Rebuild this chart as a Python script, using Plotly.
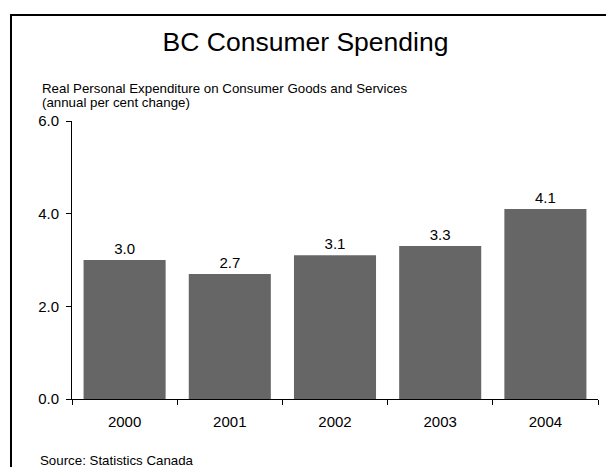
import plotly.graph_objects as go

years = ["2000", "2001", "2002", "2003", "2004"]
values = [3.0, 2.7, 3.1, 3.3, 4.1]
y_ticks = [0, 2, 4, 6]

title_text = "BC Consumer Spending"
subtitle_line1 = "Real Personal Expenditure on Consumer Goods and Services"
subtitle_line2 = "(annual per cent change)"
source_text = "Source: Statistics Canada"

W, H = 611, 467
L, R, T, B = 72, 13, 121, 68
PW, PH = W - L - R, H - T - B

def px(x):
    return (x - L) / PW

def py(y):
    return (H - B - y) / PH

FONT = "Liberation Sans, Arial, Helvetica, sans-serif"

fig = go.Figure(
    go.Bar(
        x=years,
        y=values,
        marker=dict(color="#666666", line=dict(width=0)),
        text=[f"{v:.1f}" for v in values],
        textposition="outside",
        textfont=dict(size=15, color="#000000", family=FONT),
        cliponaxis=False,
    )
)

fig.update_layout(
    width=W,
    height=H,
    margin=dict(l=L, r=R, t=T, b=B, pad=0),
    paper_bgcolor="white",
    plot_bgcolor="white",
    showlegend=False,
    bargap=0.22,
    font=dict(family=FONT, color="#000000"),
    title=dict(
        text=title_text,
        x=0.5,
        xref="container",
        xanchor="center",
        y=1 - 42 / H,
        yref="container",
        yanchor="middle",
        font=dict(size=26.5, color="#000000", family=FONT),
    ),
    xaxis=dict(
        type="category",
        showline=True,
        linecolor="#000000",
        linewidth=1,
        ticks="outside",
        tickson="boundaries",
        ticklen=5,
        tickcolor="#000000",
        showgrid=False,
        tickfont=dict(size=15, color="#000000", family=FONT),
        ticklabelstandoff=9,
    ),
    yaxis=dict(
        range=[0, 6],
        tickvals=y_ticks,
        tickformat=".1f",
        showline=True,
        linecolor="#000000",
        linewidth=1,
        ticks="outside",
        ticklen=5,
        tickcolor="#000000",
        showgrid=False,
        zeroline=False,
        tickfont=dict(size=15, color="#000000", family=FONT),
        ticklabelstandoff=4,
    ),
    shapes=[
        dict(
            type="line",
            xref="paper",
            yref="paper",
            x0=px(10),
            x1=px(606),
            y0=py(15),
            y1=py(15),
            line=dict(color="#000000", width=2),
            layer="above",
        ),
        dict(
            type="line",
            xref="paper",
            yref="paper",
            x0=px(11),
            x1=px(11),
            y0=py(14),
            y1=py(H),
            line=dict(color="#000000", width=2),
            layer="above",
        ),
    ],
    annotations=[
        dict(
            text=subtitle_line1,
            xref="paper",
            yref="paper",
            x=px(40),
            y=py(88),
            xanchor="left",
            yanchor="middle",
            showarrow=False,
            font=dict(size=13.3, color="#000000", family=FONT),
        ),
        dict(
            text=subtitle_line2,
            xref="paper",
            yref="paper",
            x=px(40),
            y=py(103),
            xanchor="left",
            yanchor="middle",
            showarrow=False,
            font=dict(size=13.3, color="#000000", family=FONT),
        ),
        dict(
            text=source_text,
            xref="paper",
            yref="paper",
            x=px(38),
            y=py(460),
            xanchor="left",
            yanchor="middle",
            showarrow=False,
            font=dict(size=13.3, color="#000000", family=FONT),
        ),
    ],
)

fig.write_html("out.html", config={"displayModeBar": False})
